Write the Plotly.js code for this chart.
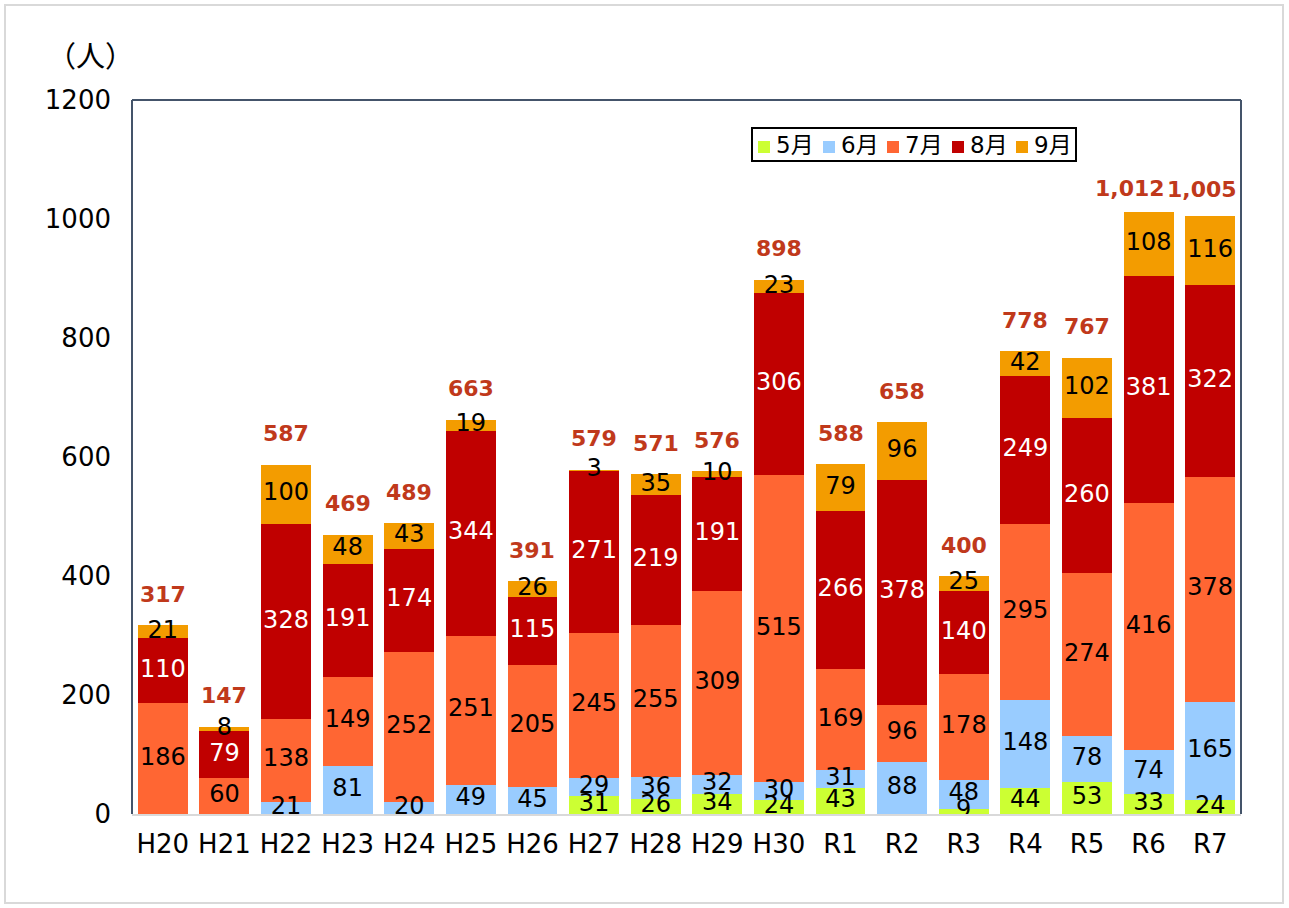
<!DOCTYPE html>
<html><head><meta charset="utf-8">
<script src="https://cdn.plot.ly/plotly-3.0.1.min.js"></script>
<style>
body{margin:0;background:#fff;}
#frame{position:absolute;left:4px;top:4px;width:1280px;height:900px;border:2px solid #d9d9d9;pointer-events:none;box-sizing:border-box;}
</style>
</head><body>
<div id="chart" style="width:1289px;height:908px;"></div>
<div id="frame"></div>
<script>
const categories = ['H20','H21','H22','H23','H24','H25','H26','H27','H28','H29','H30','R1','R2','R3','R4','R5','R6','R7'];
const may  = [0,0,0,0,0,0,0,31,26,34,24,43,0,9,44,53,33,24];
const june = [0,0,21,81,20,49,45,29,36,32,30,31,88,48,148,78,74,165];
const july = [186,60,138,149,252,251,205,245,255,309,515,169,96,178,295,274,416,378];
const aug  = [110,79,328,191,174,344,115,271,219,191,306,266,378,140,249,260,381,322];
const sept = [21,8,100,48,43,19,26,3,35,10,23,79,96,25,42,102,108,116];
const seriesNames = ['5月','6月','7月','8月','9月'];
const seriesValues = [may, june, july, aug, sept];
const seriesColors = ['#ccff33','#99ccff','#ff6633','#c00000','#f39c00'];
const labelColors = ['#000','#000','#000','#fff','#000'];

const FONT = 'DejaVu Sans, "Noto Sans CJK JP", sans-serif';
const traces = [];
seriesValues.forEach((vals, i) => {
  traces.push({
    type: 'bar', name: seriesNames[i], x: categories, y: vals,
    marker: {color: seriesColors[i], line: {width: 0}},
    hoverinfo: 'skip', showlegend: false
  });
});
// segment labels at midpoints of each stacked segment
const cum = categories.map(() => 0);
seriesValues.forEach((vals, i) => {
  const ys = [], txt = [];
  vals.forEach((v, j) => { ys.push(cum[j] + v / 2); txt.push(v > 0 ? String(v) : ''); cum[j] += v; });
  traces.push({
    type: 'scatter', mode: 'text', x: categories, y: ys, text: txt,
    textposition: 'middle center', showlegend: false, hoverinfo: 'skip',
    textfont: {family: FONT, size: 24, color: labelColors[i]}
  });
});
const totals = cum.slice();
const n = categories.length;
const annotations = categories.map((c, j) => {
  // last two labels are nudged so they do not collide (as in the original)
  let xs = 0, ys = 31;
  if (j === n - 2) { xs = -19; ys = 23; }
  if (j === n - 1) { xs = -8; ys = 27; }
  return {
    x: c, y: totals[j], xref: 'x', yref: 'y', showarrow: false,
    text: totals[j].toLocaleString('en-US'), yanchor: 'middle', yshift: ys, xshift: xs,
    font: {family: FONT, size: 22, color: '#c0391b', weight: 'bold'}
  };
});
annotations.push({
  xref: 'paper', yref: 'paper', x: -0.037, y: 1.064, xanchor: 'center', yanchor: 'middle',
  showarrow: false, text: '（人）', font: {family: '"Noto Sans CJK JP", sans-serif', size: 29, color: '#000'}
});

// custom compact legend (paper coordinates)
const PW = 1289 - 132 - 48, PH = 908 - 100 - 94;
const px = v => (v - 132) / PW;
const py = v => (814 - v) / PH;
const shapes = [
  {type: 'line', xref: 'paper', yref: 'paper', x0: 0, x1: 0, y0: 0, y1: 1, line: {color: '#44546a', width: 2}},
  {type: 'line', xref: 'paper', yref: 'paper', x0: 0, x1: 1, y0: 1, y1: 1, line: {color: '#44546a', width: 2}},
  {type: 'line', xref: 'paper', yref: 'paper', x0: 1, x1: 1, y0: 0, y1: 1, line: {color: '#44546a', width: 2}},
  {type: 'rect', xref: 'paper', yref: 'paper', x0: px(752), x1: px(1076), y0: py(161), y1: py(128),
   line: {color: '#000', width: 2}, fillcolor: '#fff'}
];
const legendSquareX = [758, 823, 887, 952, 1016];
seriesNames.forEach((nm, i) => {
  const sx = legendSquareX[i];
  shapes.push({type: 'rect', xref: 'paper', yref: 'paper', x0: px(sx), x1: px(sx + 12), y0: py(153), y1: py(141),
    line: {width: 0}, fillcolor: seriesColors[i]});
  annotations.push({xref: 'paper', yref: 'paper', x: px(sx + 16), y: py(145), xanchor: 'left', yanchor: 'middle',
    showarrow: false, text: nm, font: {family: FONT, size: 23, color: '#000'}});
});

const layout = {
  width: 1289, height: 908,
  margin: {l: 132, r: 48, t: 100, b: 94},
  paper_bgcolor: '#fff', plot_bgcolor: '#fff',
  barmode: 'stack', bargap: 0.19,
  font: {family: FONT, color: '#000'},
  xaxis: {
    type: 'category', range: [-0.5, 17.5], autorange: false,
    tickfont: {family: FONT, size: 26, color: '#000'},
    showline: true, linecolor: '#d9d9d9', linewidth: 2, ticks: '', showgrid: false,
    ticklabelstandoff: 6
  },
  yaxis: {
    range: [0, 1200], autorange: false, dtick: 200, tick0: 0, showgrid: false, zeroline: false,
    tickfont: {family: FONT, size: 26, color: '#000'}, ticks: '', showline: false,
    ticklabelstandoff: 20
  },
  shapes: shapes,
  annotations: annotations,
  showlegend: false
};
Plotly.newPlot('chart', traces, layout, {displayModeBar: false, staticPlot: true});
</script>
</body></html>
